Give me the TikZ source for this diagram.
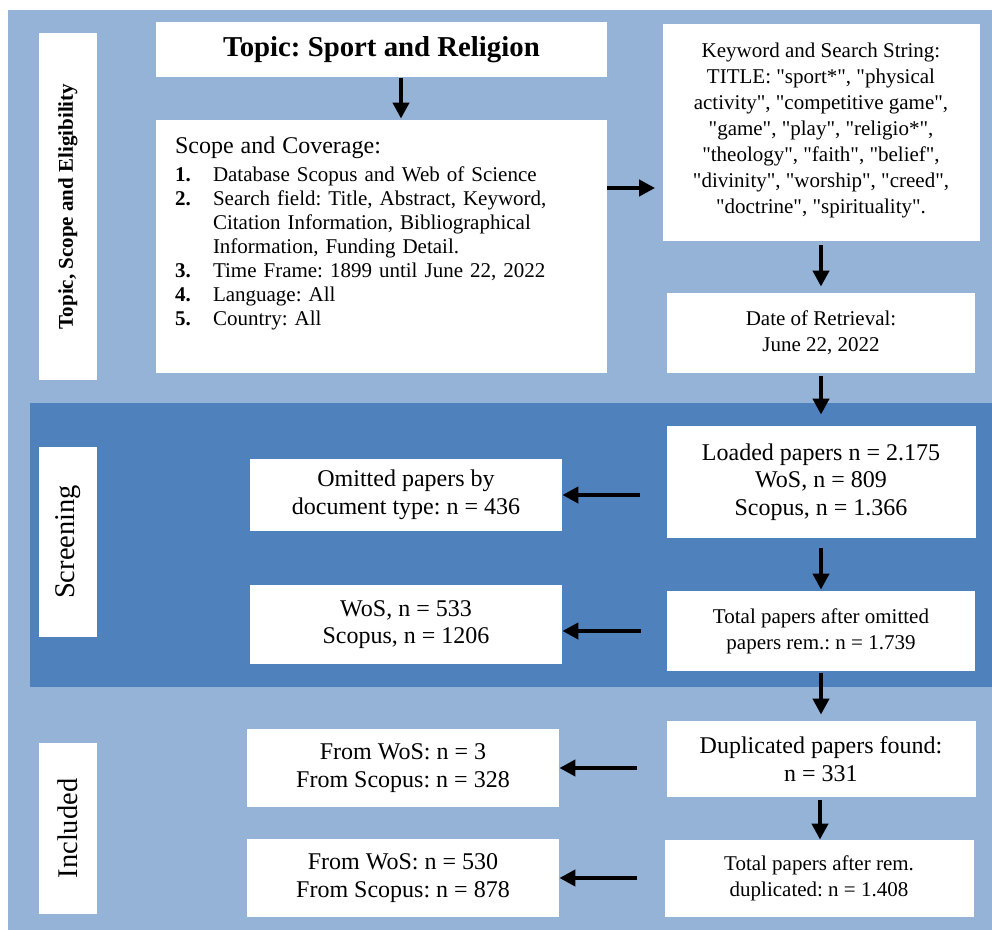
\documentclass[tikz,border=0pt]{standalone}
\usepackage{fontspec}
\setmainfont{Liberation Serif}[Ligatures=TeXOff]
\usetikzlibrary{arrows.meta}
\definecolor{bandlight}{HTML}{95B3D7}
\definecolor{banddark}{HTML}{4F81BD}
\newcommand{\litem}[2]{\makebox[19pt][l]{\textbf{#1.}}#2}
\newcommand{\lcont}[1]{\hspace*{19pt}#1}
\frenchspacing

\begin{document}
\begin{tikzpicture}[
    x=0.5pt, y=-0.5pt,
    every node/.style={font=\fontsize{10.5}{13}\selectfont},
    box/.style={fill=white, inner sep=0pt, align=center},
    big/.style={font=\fontsize{12}{13.75}\selectfont},
    side/.style={box, rotate=90},
    arr/.style={-{Triangle[width=8pt, length=8pt]}, line width=2.4pt},
    larr/.style={arr, shorten <=13pt},
]
    \useasboundingbox (0,0) rectangle (992,930);
    % the three bands
    \fill[bandlight] (8,10) rectangle (992,930);
    \fill[banddark] (30,403) rectangle (992,687);

    \node[side, minimum width=173.5pt, minimum height=29pt,
          font=\bfseries\fontsize{10.5}{12}\selectfont] (sidetopic) at (68,206.5) {Topic, Scope and Eligibility};
    \node[side, minimum width=95pt, minimum height=29pt,
          font=\fontsize{14.25}{16}\selectfont] (sidescreen) at (68,542) {Screening};
    \node[side, minimum width=85.5pt, minimum height=29pt,
          font=\fontsize{14.25}{16}\selectfont] (sideincl) at (68,828.5) {Included};

    % topic, scope and search
    \node[box, minimum width=225.5pt, minimum height=27.5pt,
          font=\bfseries\fontsize{14.4}{16}\selectfont] (title) at (381.5,49.5) {Topic: Sport and Religion};
    \node[box, minimum width=225.5pt, minimum height=126.5pt] (scope) at (381.5,246.5) {};
    \node[anchor=north west, inner sep=0pt, text width=212pt, align=left]
        (scopetext) at ([xshift=9.5pt, yshift=-8.5pt]scope.north west) {%
        {\fontsize{12}{14}\selectfont Scope and Coverage:\par}
        \vspace{2pt}
        \fontsize{10.5}{12}\selectfont
        \litem{1}{Database Scopus and Web of Science}\\
        \litem{2}{Search field: Title, Abstract, Keyword,}\\
        \lcont{Citation Information, Bibliographical}\\
        \lcont{Information, Funding Detail.}\\
        \litem{3}{Time Frame: 1899 until June 22, 2022}\\
        \litem{4}{Language: All}\\
        \litem{5}{Country: All}\par};

    \node[box, minimum width=158.5pt, minimum height=108.5pt] (keyword) at (821,132.5) {%
        Keyword and Search String:\\
        TITLE: "sport*", "physical\\
        activity", "competitive game",\\
        "game", "play", "religio*",\\
        "theology", "faith", "belief",\\
        "divinity", "worship", "creed",\\
        "doctrine", "spirituality".\\[-9pt]};
    \node[box, minimum width=154pt, minimum height=40pt] (date) at (821,333) {Date of Retrieval:\\June 22, 2022};

    % screening
    \node[box, big, minimum width=154.5pt, minimum height=56pt] (loaded) at (821,482)
        {Loaded papers n = 2.175\\WoS, n = 809\\Scopus, n = 1.366};
    \node[box, big, minimum width=156pt, minimum height=36pt] (omitted) at (406,495)
        {Omitted papers by\\document type: n = 436};
    \node[box, minimum width=154pt, minimum height=40pt] (totala) at (821,631)
        {Total papers after omitted\\papers rem.: n = 1.739};
    \node[box, big, minimum width=156pt, minimum height=39.5pt] (wos) at (406,624.5)
        {WoS, n = 533\\Scopus, n = 1206};

    % included
    \node[box, big, minimum width=154.5pt, minimum height=38pt] (dup) at (821,759)
        {Duplicated papers found:\\n = 331};
    \node[box, big, minimum width=156pt, minimum height=39pt] (fromone) at (403,768)
        {From WoS: n = 3\\From Scopus: n = 328};
    \node[box, minimum width=154.5pt, minimum height=38.5pt] (totalb) at (819,878.5)
        {Total papers after rem.\\duplicated: n = 1.408};
    \node[box, big, minimum width=156pt, minimum height=39pt] (fromtwo) at (403,878)
        {From WoS: n = 530\\From Scopus: n = 878};

    \coordinate (sk) at (0,188);
    \draw[arr, shorten <=0.5pt, shorten >=0.5pt] ([xshift=9.75pt]title.south) -- ([xshift=9.75pt]scope.north);
    \draw[arr, shorten >=3.5pt] (scope.east |- sk) -- (keyword.west |- sk);
    \draw[arr, shorten <=2pt, shorten >=3pt] (keyword.south) -- (keyword.south |- date.north);
    \draw[arr, shorten <=1.5pt, shorten >=5.5pt] (date.south) -- (loaded.north);
    \draw[arr, shorten <=5pt, shorten >=0.5pt] (loaded.south) -- (totala.north);
    \draw[arr, shorten <=1pt, shorten >=3pt] (totala.south) -- (dup.north);
    \draw[arr, shorten <=1.5pt, shorten >=0pt] ([xshift=-0.5pt]dup.south) -- ([xshift=-0.5pt]dup.south |- totalb.north);

    \draw[larr] (loaded.west |- omitted.east) -- (omitted.east);
    \draw[larr] (totala.west) -- (wos.east |- totala.west);
    \draw[larr, shorten <=14.5pt] (dup.west |- fromone.east) -- (fromone.east);
    \draw[larr, shorten <=13.5pt] (totalb.west |- fromtwo.east) -- (fromtwo.east);
\end{tikzpicture}
\end{document}
